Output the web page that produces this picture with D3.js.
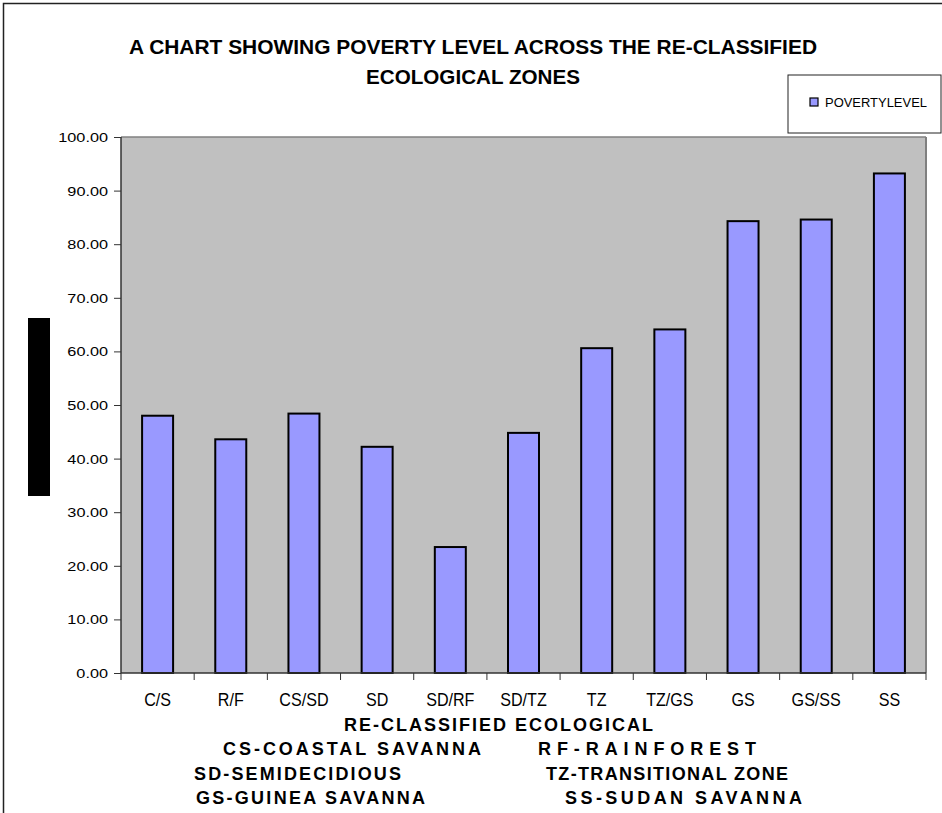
<!DOCTYPE html>
<html><head><meta charset="utf-8">
<script src="https://cdn.jsdelivr.net/npm/d3@7"></script>
<style>body{margin:0;background:#fff}svg{display:block;font-family:Arial,"Liberation Sans",sans-serif}</style>
</head><body>
<script>
const categories = ["C/S","R/F","CS/SD","SD","SD/RF","SD/TZ","TZ","TZ/GS","GS","GS/SS","SS"];
const povertyLevel = [48.0,43.6,48.4,42.2,23.5,44.8,60.6,64.1,84.3,84.6,93.2];
const yTicks = [0,10,20,30,40,50,60,70,80,90,100];
const titleLines = ["A CHART SHOWING POVERTY LEVEL ACROSS THE RE-CLASSIFIED","ECOLOGICAL ZONES"];
const seriesName = "POVERTYLEVEL";
const xTitle = "RE-CLASSIFIED ECOLOGICAL";
const keyLeft = ["CS-COASTAL SAVANNA","SD-SEMIDECIDIOUS","GS-GUINEA SAVANNA"];
const keyRight = ["RF-RAINFOREST","TZ-TRANSITIONAL ZONE","SS-SUDAN SAVANNA"];

const W=942,H=813;
const svg=d3.select("body").append("svg").attr("width",W).attr("height",H);
svg.append("rect").attr("x",3.5).attr("y",3.5).attr("width",1000).attr("height",1000).attr("fill","none").attr("stroke","#222").attr("stroke-width",1.5);

const L=121,R=926,T=137,B=673;
const xb=d3.scaleBand().domain(categories).range([L,R]);
const y=d3.scaleLinear().domain([0,100]).range([B,T]);

function stretch(sel,f){ sel.each(function(){ const w=this.getComputedTextLength(); d3.select(this).attr("textLength",w*f).attr("lengthAdjust","spacingAndGlyphs"); }); }

svg.append("rect").attr("x",L).attr("y",T).attr("width",R-L).attr("height",B-T).attr("fill","#c0c0c0");
svg.append("line").attr("x1",L).attr("x2",R).attr("y1",T).attr("y2",T).attr("stroke","#808080").attr("stroke-width",1.5);
svg.append("line").attr("x1",R).attr("x2",R).attr("y1",T).attr("y2",B).attr("stroke","#808080").attr("stroke-width",2);

svg.append("g").selectAll("rect").data(povertyLevel).join("rect")
  .attr("x",(d,i)=>xb(categories[i])+xb.bandwidth()/2-15.5)
  .attr("width",31)
  .attr("y",d=>y(d)).attr("height",d=>B-y(d))
  .attr("fill","#9999ff").attr("stroke","#000").attr("stroke-width",2);

const ya=svg.append("g").attr("transform",`translate(${L},0)`)
  .call(d3.axisLeft(y).tickValues(yTicks).tickSize(7).tickFormat(d3.format(".2f")));
ya.select(".domain").attr("stroke","#333").attr("stroke-width",1.5).attr("d",`M0,${T}V${B}`);
ya.selectAll(".tick line").attr("stroke","#333");
ya.selectAll("text").attr("font-size",12.5).attr("fill","#000").attr("x",-13).attr("dy","0.36em").attr("font-family","Arial,'Liberation Sans',sans-serif");
stretch(ya.selectAll("text"),1.3);

const xa=svg.append("g").attr("transform",`translate(0,${B})`);
xa.append("line").attr("x1",L).attr("x2",R).attr("y1",0).attr("y2",0).attr("stroke","#333").attr("stroke-width",1.5);
xa.selectAll("line.t").data(categories.concat(["end"])).join("line").attr("class","t")
  .attr("x1",(d,i)=>L+i*xb.bandwidth()).attr("x2",(d,i)=>L+i*xb.bandwidth())
  .attr("y1",0).attr("y2",7).attr("stroke","#333");
const xl=xa.selectAll("text").data(categories).join("text")
  .attr("x",d=>xb(d)+xb.bandwidth()/2).attr("y",33).attr("text-anchor","middle")
  .attr("font-size",17.5).text(d=>d);
stretch(xl,0.92);

const tw=[688,214];
svg.selectAll("text.title").data(titleLines).join("text").attr("class","title")
  .attr("x",(d,i)=>473-tw[i]/2).attr("y",(d,i)=>54+i*30)
  .attr("font-size",20).attr("font-weight","bold")
  .attr("textLength",(d,i)=>tw[i]).attr("lengthAdjust","spacingAndGlyphs").text(d=>d);

// legend
svg.append("rect").attr("x",788).attr("y",75).attr("width",153).attr("height",58).attr("fill","#fff").attr("stroke","#222").attr("stroke-width",1);
svg.append("rect").attr("x",810).attr("y",98).attr("width",8).attr("height",8).attr("fill","#9999ff").attr("stroke","#000").attr("stroke-width",1.2);
svg.append("text").attr("x",825).attr("y",107).attr("font-size",12.5).attr("textLength",102).attr("lengthAdjust","spacingAndGlyphs").text(seriesName);

// black block
svg.append("rect").attr("x",28).attr("y",318).attr("width",22).attr("height",178).attr("fill","#000");

function spaced(t,x0,x1,yy){
  svg.append("text").attr("x",x0).attr("y",yy).attr("font-size",18).attr("font-weight","bold")
    .attr("textLength",x1-x0).attr("lengthAdjust","spacing").text(t);
}
spaced(xTitle,344,653,731);
const lp=[[223,481],[194,401],[196,425]], rp=[[538,756],[546,788],[565,802]];
const ky=[755,780,804];
keyLeft.forEach((t,i)=>spaced(t,lp[i][0],lp[i][1],ky[i]));
keyRight.forEach((t,i)=>spaced(t,rp[i][0],rp[i][1],ky[i]));
</script>
</body></html>
